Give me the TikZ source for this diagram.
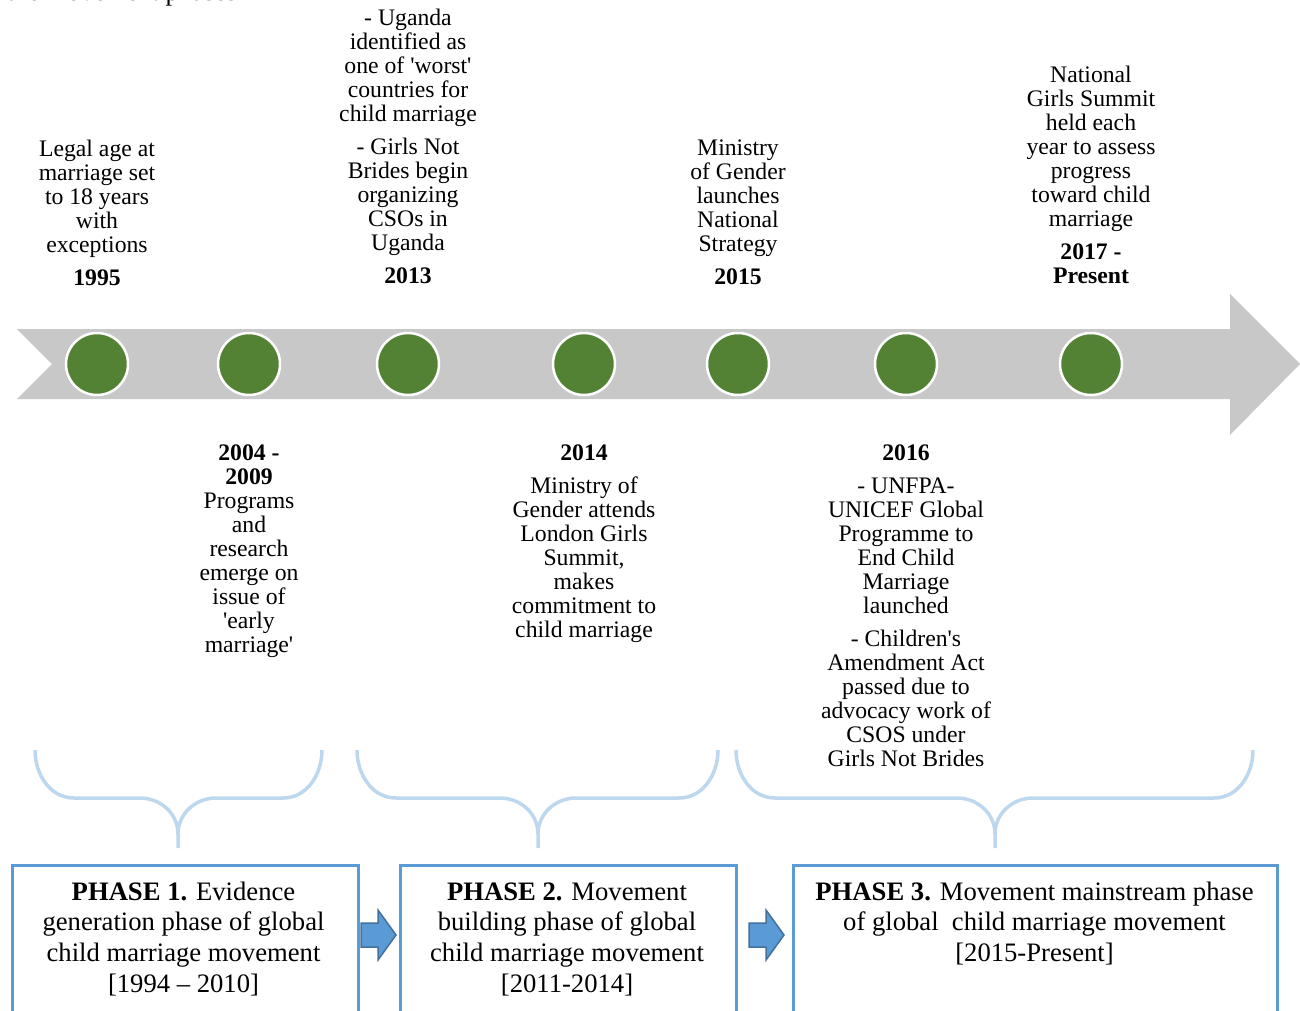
\documentclass[tikz,border=0pt]{standalone}
\usepackage{fontspec}
\setmainfont{Liberation Serif}
\definecolor{band}{HTML}{C8C8C8}
\definecolor{dot}{HTML}{548235}
\definecolor{frame}{HTML}{5B9BD5}
\definecolor{frameedge}{HTML}{41719C}
\definecolor{bracecol}{HTML}{BDD7EE}
\newcommand{\sq}{\textquotesingle}
\begin{document}
\begin{tikzpicture}[x=1pt,y=-1pt,
  event/.style={align=center,inner sep=0pt,anchor=north,font=\fontsize{23.7}{24}\selectfont},
  milestone/.style={circle,fill=dot,draw=white,line width=2.5pt,minimum size=62pt,inner sep=0pt},
  phasebox/.style={draw=frame,line width=3pt,anchor=north west,inner sep=0pt},
  phasetext/.style={align=center,inner sep=0pt,anchor=north,font=\fontsize{26.65}{30.7}\selectfont},
  bracket/.style={draw=bracecol,line width=3.5pt},
  stepper/.style={fill=frame,draw=frameedge,line width=1.5pt,line join=miter}]
\useasboundingbox (0,0) rectangle (1300,1011);
\begin{scope}
\clip (0,0) rectangle (1300,1011);

% heading line running in from above
\node[anchor=base west,inner sep=0pt,font=\fontsize{26.65}{30}\selectfont] (title) at (7,1) {the movement phases};

% timeline band
\fill[band] (17,329) -- (1230,329) -- (1230,294) -- (1300,364) -- (1230,435)
  -- (1230,399) -- (17,399) -- (52,364) -- cycle;

% milestones
\node[milestone] (m1) at (97,364) {};
\node[milestone] (m2) at (249,364) {};
\node[milestone] (m3) at (408,364) {};
\node[milestone] (m4) at (584,364) {};
\node[milestone] (m5) at (738,364) {};
\node[milestone] (m6) at (906,364) {};
\node[milestone] (m7) at (1091,364) {};

% events above the band
\node[event] (e1) at (97,138) {\rule{0pt}{18pt}Legal age at\\marriage set\\to 18 years\\with\\exceptions\\[9pt]\textbf{1995}};
\node[event] (e3) at (408,7) {\rule{0pt}{18pt}- Uganda\\identified as\\one of \sq worst\sq\\countries for\\child marriage\\[9pt]- Girls Not\\Brides begin\\organizing\\CSOs in\\Uganda\\[9pt]\textbf{2013}};
\node[event] (e5) at (738,137) {\rule{0pt}{18pt}Ministry\\of Gender\\launches\\National\\Strategy\\[9pt]\textbf{2015}};
\node[event] (e7) at (1091,64) {\rule{0pt}{18pt}National\\Girls Summit\\held each\\year to assess\\progress\\toward child\\marriage\\[9pt]\textbf{2017 -}\\\textbf{Present}};

% events below the band
\node[event] (e2) at (249,442) {\rule{0pt}{18pt}\textbf{2004 -}\\\textbf{2009}\\Programs\\and\\research\\emerge on\\issue of\\\sq early\\marriage\sq};
\node[event] (e4) at (584,442) {\rule{0pt}{18pt}\textbf{2014}\\[9pt]Ministry of\\Gender attends\\London Girls\\Summit,\\makes\\commitment to\\child marriage};
\node[event] (e6) at (906,442) {\rule{0pt}{18pt}\textbf{2016}\\[9pt]- UNFPA-\\UNICEF Global\\Programme to\\End Child\\Marriage\\launched\\[9pt]- Children\sq s\\Amendment Act\\passed due to\\advocacy work of\\CSOS under\\Girls Not Brides};

% phase boxes
\node[phasebox,minimum width=346pt,minimum height=170pt] (p1) at (10.5,864) {};
\node[phasebox,minimum width=336pt,minimum height=170pt] (p2) at (398.5,864) {};
\node[phasebox,minimum width=484pt,minimum height=170pt] (p3) at (792,864) {};

\node[phasetext] (t1) at (183.5,880) {\rule{0pt}{20pt}\textbf{PHASE 1.} Evidence\\generation phase of global\\child marriage movement\\{[}1994 – 2010{]}};
\node[phasetext] (t2) at (567,880) {\rule{0pt}{20pt}\textbf{PHASE 2.} Movement\\building phase of global\\child marriage movement\\{[}2011-2014{]}};
\node[phasetext] (t3) at (1034.5,880) {\rule{0pt}{20pt}\textbf{PHASE 3.} Movement mainstream phase\\of global\ \ child marriage movement\\{[}2015-Present{]}};

% braces grouping the events into phases
\draw[bracket] (35,750) to[out=-90,in=180] (74,798) -- (140,798) to[out=0,in=90] (178,834) -- (178,848);
\draw[bracket] (322,750) to[out=-90,in=0] (283,798) -- (216,798) to[out=180,in=90] (178,834);
\draw[bracket] (357,750) to[out=-90,in=180] (396,798) -- (500,798) to[out=0,in=90] (538,834) -- (538,848);
\draw[bracket] (718,750) to[out=-90,in=0] (679,798) -- (576,798) to[out=180,in=90] (538,834);
\draw[bracket] (736,750) to[out=-90,in=180] (775,798) -- (957,798) to[out=0,in=90] (995,834) -- (995,848);
\draw[bracket] (1253,750) to[out=-90,in=0] (1214,798) -- (1033,798) to[out=180,in=90] (995,834);

% block arrows between the phases
\draw[stepper] (361,923) -- (378,923) -- (378,910) -- (396,935) -- (378,960) -- (378,947) -- (361,947) -- cycle;
\draw[stepper] (749,923) -- (766,923) -- (766,910) -- (784,935) -- (766,960) -- (766,947) -- (749,947) -- cycle;
\end{scope}
\end{tikzpicture}
\end{document}
